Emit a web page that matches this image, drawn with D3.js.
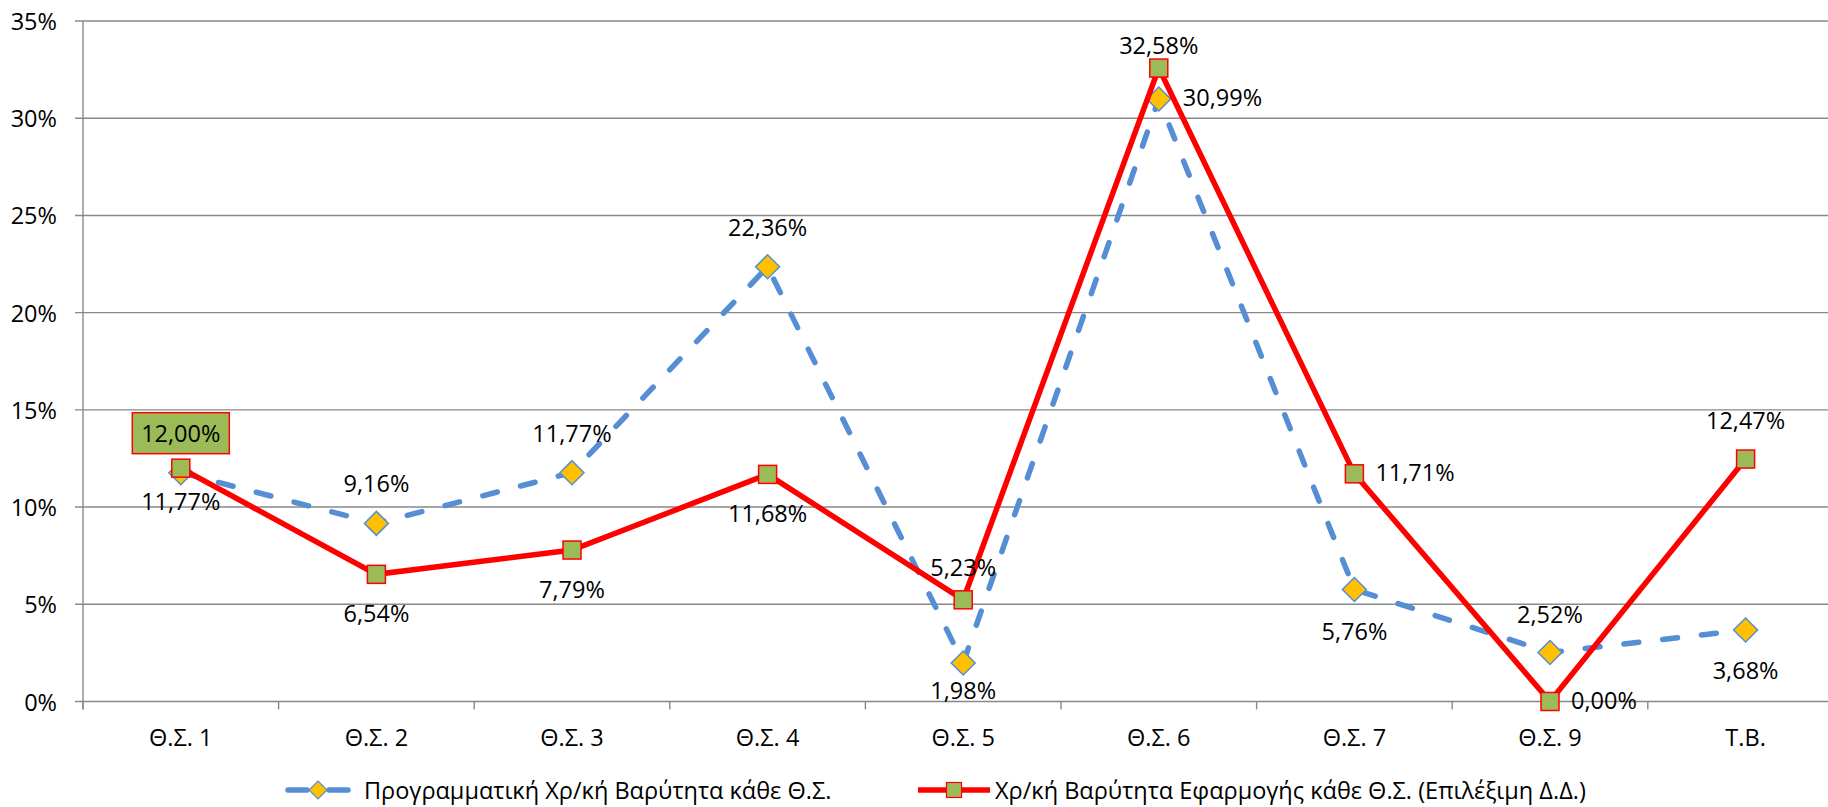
<!DOCTYPE html>
<html>
<head>
<meta charset="utf-8">
<script src="https://cdn.jsdelivr.net/npm/d3@7/dist/d3.min.js"></script>
<style>
  html, body { margin: 0; padding: 0; background: #fff; }
  svg { display: block; font-family: "Open Sans", "Noto Sans", sans-serif; }
</style>
</head>
<body>
<svg id="chart" width="1828" height="807"></svg>
<script>
// ---- data ----
const categories = ["Θ.Σ. 1", "Θ.Σ. 2", "Θ.Σ. 3", "Θ.Σ. 4", "Θ.Σ. 5", "Θ.Σ. 6", "Θ.Σ. 7", "Θ.Σ. 9", "Τ.Β."];
const programmatic = [11.77, 9.16, 11.77, 22.36, 1.98, 30.99, 5.76, 2.52, 3.68];
const applied = [12.00, 6.54, 7.79, 11.68, 5.23, 32.58, 11.71, 0.00, 12.47];
const yTicks = [0, 5, 10, 15, 20, 25, 30, 35];
const seriesNames = ["Προγραμματική Χρ/κή Βαρύτητα κάθε Θ.Σ.", "Χρ/κή Βαρύτητα Εφαρμογής κάθε Θ.Σ. (Επιλέξιμη Δ.Δ.)"];

(function () {
// label placement (layout, not data)
const progLabelPos = [["below",28],["above",40],["above",40],["above",40],["below",27],["right",0],["below",41],["above",39],["below",40]];
const applLabelPos = [["box",35],["below",39],["below",39],["below",39],["above",33],["above",23],["right",0],["right",0],["above",39]];

const fmt = v => v.toFixed(2).replace(".", ",") + "%";

const svg = d3.select("#chart");
const mLeft = 83, mTop = 21, mBottom = 701.5;
const bandW = 195.6;
const x = d3.scaleBand().domain(categories).range([mLeft, mLeft + bandW * categories.length]).padding(0);
const y = d3.scaleLinear().domain([0, 35]).range([mBottom, mTop]);
const cx = c => x(c) + x.bandwidth() / 2;

const gridColor = "#898989";
const fontSize = 23.5;

// gridlines
svg.append("g").selectAll("line").data(yTicks).join("line")
  .attr("x1", mLeft - 8).attr("x2", 1828)
  .attr("y1", d => y(d)).attr("y2", d => y(d))
  .attr("stroke", gridColor).attr("stroke-width", 1.4);

// y axis line
svg.append("line").attr("x1", mLeft).attr("x2", mLeft).attr("y1", mTop).attr("y2", mBottom + 8)
  .attr("stroke", gridColor).attr("stroke-width", 1.4);

// y tick labels
svg.append("g").selectAll("text").data(yTicks).join("text")
  .attr("x", 57).attr("y", d => y(d))
  .attr("text-anchor", "end").attr("dominant-baseline", "central")
  .attr("font-size", fontSize).attr("fill", "#000")
  .text(d => d + "%");

// x ticks at band boundaries
const bounds = categories.map(c => x(c)).concat([x(categories[categories.length - 1]) + x.bandwidth()]);
svg.append("g").selectAll("line").data(bounds).join("line")
  .attr("x1", d => d).attr("x2", d => d).attr("y1", mBottom).attr("y2", mBottom + 8)
  .attr("stroke", gridColor).attr("stroke-width", 1.4);

// x labels
svg.append("g").selectAll("text").data(categories).join("text")
  .attr("x", d => cx(d)).attr("y", 737)
  .attr("text-anchor", "middle").attr("dominant-baseline", "central")
  .attr("font-size", fontSize).attr("fill", "#000")
  .text(d => d);

const blue = "#558ED5", gold = "#FFC000", red = "#FF0000", green = "#9BBB59";

const line = d3.line().x((d, i) => cx(categories[i])).y(d => y(d));

// blue dashed series
svg.append("path").datum(programmatic).attr("d", line)
  .attr("fill", "none").attr("stroke", blue).attr("stroke-width", 5.5)
  .attr("stroke-dasharray", "15,24").attr("stroke-linecap", "round");

const diamond = r => `M0,${-r}L${r},0L0,${r}L${-r},0Z`;
svg.append("g").selectAll("path").data(programmatic).join("path")
  .attr("transform", (d, i) => `translate(${cx(categories[i])},${y(d)})`)
  .attr("d", diamond(12))
  .attr("fill", gold).attr("stroke", blue).attr("stroke-width", 1.5);

// red solid series
svg.append("path").datum(applied).attr("d", line)
  .attr("fill", "none").attr("stroke", red).attr("stroke-width", 5.5)
  .attr("stroke-linejoin", "miter");

svg.append("g").selectAll("rect").data(applied).join("rect")
  .attr("x", (d, i) => cx(categories[i]) - 9).attr("y", d => y(d) - 9)
  .attr("width", 18).attr("height", 18)
  .attr("fill", green).attr("stroke", red).attr("stroke-width", 1.5);

// labels
function drawLabels(vals, pos, markerR) {
  const g = svg.append("g");
  vals.forEach((v, i) => {
    const px = cx(categories[i]), py = y(v);
    const [p, off] = pos[i];
    let tx = px, ty = py, anchor = "middle";
    if (p === "above" || p === "box") ty = py - off;
    else if (p === "below") ty = py + off;
    else if (p === "right") { tx = px + markerR + 12; ty = py - 2; anchor = "start"; }
    if (p === "box") {
      g.append("rect").attr("x", px - 48.5).attr("y", ty - 20.5).attr("width", 97).attr("height", 41)
        .attr("fill", green).attr("stroke", red).attr("stroke-width", 1.5);
    }
    g.append("text").attr("x", tx).attr("y", ty)
      .attr("text-anchor", anchor).attr("dominant-baseline", "central")
      .attr("font-size", fontSize).attr("fill", "#000")
      .text(fmt(v));
  });
}
drawLabels(programmatic, progLabelPos, 12);
drawLabels(applied, applLabelPos, 9);

// legend
const legY = 790;
const leg1 = svg.append("g");
leg1.append("line").attr("x1", 288).attr("x2", 348).attr("y1", legY).attr("y2", legY)
  .attr("stroke", blue).attr("stroke-width", 5.5).attr("stroke-dasharray", "19,22").attr("stroke-linecap", "round");
leg1.append("path").attr("transform", `translate(318,${legY})`).attr("d", diamond(9))
  .attr("fill", gold).attr("stroke", blue).attr("stroke-width", 1.2);
leg1.append("text").attr("x", 364).attr("y", legY).attr("dominant-baseline", "central")
  .attr("font-size", fontSize).attr("fill", "#000").text(seriesNames[0]);

const leg2 = svg.append("g");
leg2.append("line").attr("x1", 918).attr("x2", 990).attr("y1", legY).attr("y2", legY)
  .attr("stroke", red).attr("stroke-width", 5.5);
leg2.append("rect").attr("x", 946.5).attr("y", legY - 7.5).attr("width", 15).attr("height", 15)
  .attr("fill", green).attr("stroke", red).attr("stroke-width", 1.2);
leg2.append("text").attr("x", 995).attr("y", legY).attr("dominant-baseline", "central")
  .attr("font-size", fontSize).attr("fill", "#000").text(seriesNames[1]);
})();
</script>
</body>
</html>
